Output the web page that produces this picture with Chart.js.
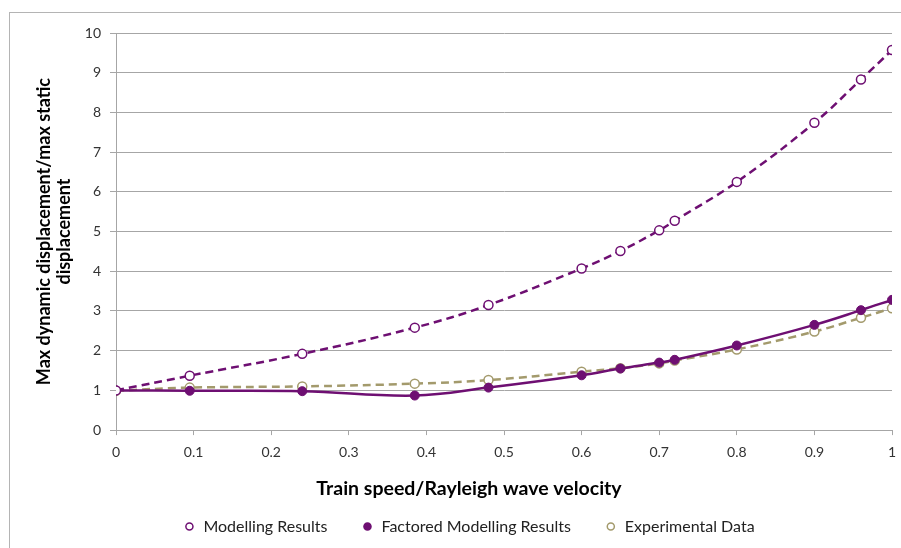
<!DOCTYPE html>
<html>
<head>
<meta charset="utf-8">
<script src="https://cdn.jsdelivr.net/npm/chart.js@4"></script>
<style>
  html, body { margin: 0; padding: 0; background: #ffffff; overflow: hidden; }
  #wrap { position: relative; width: 901px; height: 548px; }
  #frame { position: absolute; left: 9px; top: 12px; width: 1000px; height: 1000px;
           border-left: 1.5px solid #b4b4b4; border-top: 1.5px solid #b4b4b4; }
  canvas { position: absolute; left: 0; top: 0; }
</style>
</head>
<body>
<div id="wrap">
  <div id="frame"></div>
  <canvas id="c" width="901" height="548"></canvas>
</div>
<script>
// ---- data ----
const speedRatio = [0, 0.095, 0.24, 0.385, 0.48, 0.6, 0.65, 0.7, 0.72, 0.8, 0.9, 0.96, 1.0];
const modelling  = [1.0, 1.37, 1.92, 2.58, 3.15, 4.07, 4.51, 5.03, 5.27, 6.25, 7.74, 8.83, 9.57];
const factored   = [1.0, 0.99, 0.98, 0.87, 1.07, 1.38, 1.55, 1.70, 1.77, 2.13, 2.65, 3.02, 3.28];
const experimental = [0.99, 1.07, 1.10, 1.17, 1.26, 1.47, 1.56, 1.68, 1.75, 2.03, 2.48, 2.83, 3.07];
const seriesNames = ['Modelling Results', 'Factored Modelling Results', 'Experimental Data'];
const xTitle = 'Train speed/Rayleigh wave velocity';
const yTitle = ['Max dynamic displacement/max static', 'displacement'];

const PURPLE = '#6e0f72';
const OLIVE = '#a39a6c';
const FONT = 'Lato, "Open Sans", sans-serif';

function pts(ys) { return speedRatio.map((x, i) => ({ x: x, y: ys[i] })); }

new Chart(document.getElementById('c'), {
  type: 'scatter',
  data: {
    datasets: [
      {
        label: seriesNames[0], data: pts(modelling), showLine: true, tension: 0.4,
        borderColor: PURPLE, backgroundColor: '#ffffff', borderWidth: 2.5, borderDash: [8, 5],
        pointRadius: 4.5, pointBorderWidth: 1.5, pointBackgroundColor: '#ffffff', pointBorderColor: PURPLE
      },
      {
        label: seriesNames[1], data: pts(factored), showLine: true, tension: 0.4,
        borderColor: PURPLE, backgroundColor: PURPLE, borderWidth: 2.5,
        pointRadius: 4.5, pointBorderWidth: 1, pointBackgroundColor: PURPLE, pointBorderColor: PURPLE
      },
      {
        label: seriesNames[2], data: pts(experimental), showLine: true, tension: 0.4,
        borderColor: OLIVE, backgroundColor: '#ffffff', borderWidth: 2.5, borderDash: [8, 5],
        pointRadius: 4.5, pointBorderWidth: 1.5, pointBackgroundColor: '#ffffff', pointBorderColor: OLIVE
      }
    ]
  },
  options: {
    responsive: false,
    animation: false,
    events: [],
    layout: { padding: { left: 46, right: 9, top: 33, bottom: 3.5 } },
    scales: {
      x: {
        type: 'linear', min: 0, max: 1,
        border: { display: true, color: '#a6a6a6', width: 1 },
        grid: { drawOnChartArea: false, drawTicks: true, tickLength: 5, color: '#a6a6a6' },
        ticks: { stepSize: 0.1, color: '#333333', padding: 9, font: { family: FONT, size: 14 },
                 maxRotation: 0, autoSkip: false,
                 callback: v => String(Math.round(v * 10) / 10) },
        afterFit: s => { s.height = 27; s.paddingRight = 4; }
      },
      y: {
        type: 'linear', min: 0, max: 10,
        border: { display: true, color: '#a6a6a6', width: 1 },
        grid: { drawOnChartArea: true, drawTicks: true, tickLength: 6, color: '#a6a6a6' },
        ticks: { stepSize: 1, color: '#333333', padding: 9, font: { family: FONT, size: 14 } },
        title: { display: true, text: yTitle, color: '#000000',
                 font: { family: FONT, size: 18, weight: 'bold', lineHeight: 1.11 },
                 padding: { top: -12, bottom: 0 } },
        afterFit: s => { s.width = 70; }
      }
    },
    plugins: {
      tooltip: { enabled: false },
      title: {
        display: true, position: 'bottom', weight: 500, text: xTitle, color: '#000000',
        font: { family: FONT, size: 19.5, weight: 'bold', lineHeight: 1.2 },
        padding: { top: 20, bottom: -16 }
      },
      legend: {
        display: true, position: 'bottom', weight: 1000,
        labels: {
          usePointStyle: true, boxWidth: 12, boxHeight: 5, padding: 34,
          color: '#222222', font: { family: FONT, size: 16 },
          generateLabels: chart => chart.data.datasets.map((ds, i) => ({
            text: ds.label, fillStyle: ds.pointBackgroundColor, strokeStyle: ds.pointBorderColor,
            lineWidth: 1.5, lineDash: [], pointStyle: 'circle', hidden: false, datasetIndex: i,
            fontColor: '#222222'
          }))
        }
      }
    }
  }
});
</script>
</body>
</html>
